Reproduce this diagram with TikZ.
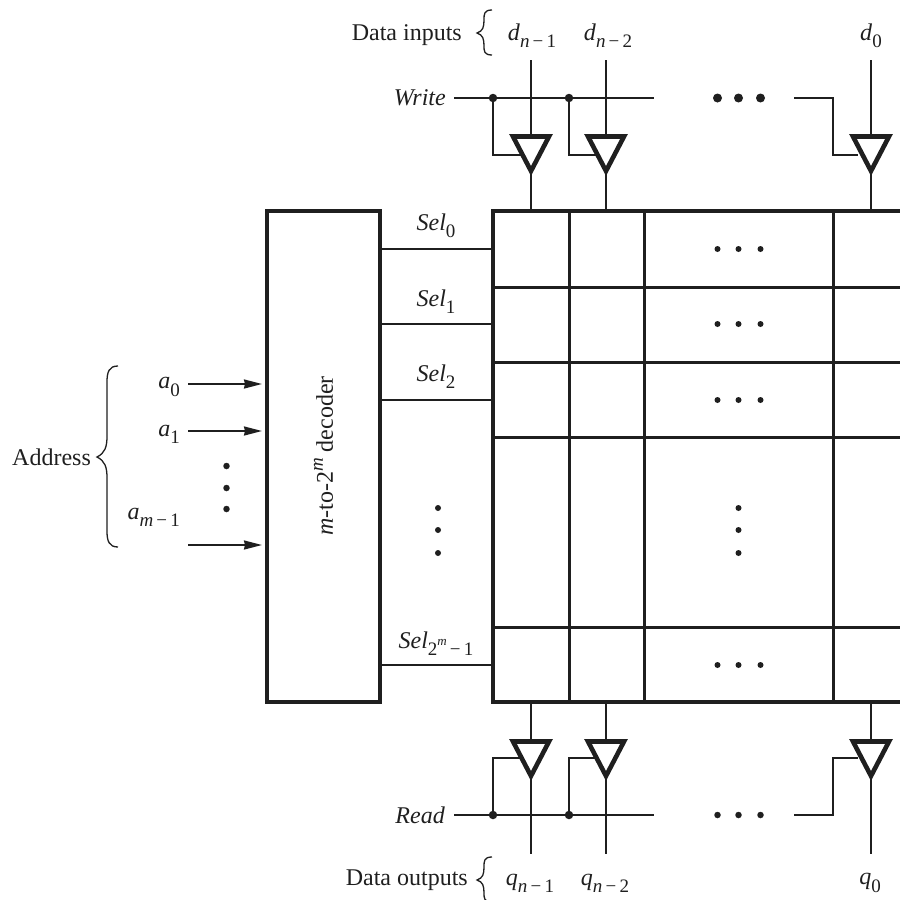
\documentclass[tikz,border=0pt]{standalone}
\usepackage{fontspec}
\setmainfont{Liberation Serif}
\usetikzlibrary{arrows.meta}
\newcommand{\lb}[2]{\textit{#1}\raisebox{-0.3em}{\fontsize{19}{20}\selectfont #2}}
\newcommand{\idx}[2]{\textit{#1}\,−\,#2}
\tikzset{
  x=1pt,y=-1pt,
  thinw/.style={line width=1.9pt,draw=black!88},
  gridw/.style={line width=3pt,draw=black!88},
  boxw/.style={line width=4.4pt,draw=black!88,line join=miter},
  bufw/.style={line width=4.6pt,draw=black!88,line join=miter,fill=white},
  lbl/.style={inner sep=0pt,font=\fontsize{24}{26}\selectfont,text=black!88},
  jdot/.style={circle,fill=black!88,inner sep=0pt,minimum size=8.5pt},
  bigdot/.style={circle,fill=black!88,inner sep=0pt,minimum size=9pt},
  smalldot/.style={circle,fill=black!88,inner sep=0pt,minimum size=6pt},
  arr/.style={thinw,-{Stealth[length=18pt,width=9pt,inset=1pt]}},
  bracew/.style={line width=1.3pt,draw=black!88},
}
\begin{document}
\begin{tikzpicture}
\useasboundingbox (0,0) rectangle (900,900);
\clip (0,0) rectangle (900,900);
% grid
\foreach \y in {287,362,437,627}
  \draw[gridw] (493,\y) -- (900,\y);
\foreach \x in {569,644,833}
  \draw[gridw] (\x,211) -- (\x,702);
\draw[boxw] (900,211) -- (493,211) -- (493,702) -- (900,702);
% decoder
\node[boxw,draw,rectangle,outer sep=0pt,minimum width=113pt,minimum height=491pt,inner sep=0pt,anchor=north west] (dec) at (267,211) {};
\node[lbl,rotate=90] at (323.5,456) {\textit{m}-to-2\raisebox{0.42em}{\fontsize{19}{20}\selectfont\textit{m}} decoder};
% select lines
\foreach \y/\t/\ly in {249/{\lb{Sel}{0}}/226,324/{\lb{Sel}{1}}/302,400/{\lb{Sel}{2}}/377}{
  \coordinate (s) at (493,\y);
  \draw[thinw] (dec.east |- s) -- (s);
  \node[lbl] at (436,\ly) {\t};
}
\coordinate (sl) at (493,665);
\draw[thinw] (dec.east |- sl) -- (sl);
\node[lbl] at (436,644) {\textit{Sel}\raisebox{-0.3em}{\fontsize{19}{20}\selectfont 2\raisebox{0.55em}{\fontsize{13}{14}\selectfont\textit{m}}\,−\,1}};
% dots in grid
\foreach \y in {249,324,400,665}
  \foreach \x in {717.5,738.5,760.5}
    \node[smalldot] at (\x,\y) {};
\foreach \y in {508,530,553}{
  \node[smalldot] at (738.5,\y) {};
  \node[smalldot] at (438,\y) {};
}
% write bus
\node[lbl,anchor=east] (wr) at (446,98) {\textit{Write}};
\coordinate (wend) at (654,98);
\coordinate (wres) at (794,98);
\draw[thinw] (454,98) -- (wend);
\draw[thinw] (wres) -- (833,98) -- (833,155) -- (858,155);
\foreach \x in {717.5,738.5,760.5}
  \node[bigdot] at (\x,98) {};
% read bus
\node[lbl,anchor=east] (rd) at (445,815) {\textit{Read}};
\coordinate (rend) at (654,815);
\coordinate (rres) at (794,815);
\draw[thinw] (454,815) -- (rend);
\draw[thinw] (rres) -- (833,815) -- (833,758) -- (858,758);
\foreach \x in {717.5,738.5,760.5}
  \node[smalldot,minimum size=6.5pt] at (\x,815) {};
% buffers
\foreach \x in {531,606,871}{
  \draw[thinw] (\x,60) -- (\x,211);
  \draw[thinw] (\x,702) -- (\x,854);
}
\foreach \x/\j in {493/531,569/606}{
  \draw[thinw] (\x,98) -- (\x,155) -- (\j,155);
  \node[jdot] at (\x,98) {};
  \draw[thinw] (\x,815) -- (\x,758) -- (\j,758);
  \node[jdot] at (\x,815) {};
}
\foreach \x in {531,606,871}{
  \draw[bufw] (\x-18,136.5) -- (\x+18,136.5) -- (\x,171) -- cycle;
  \draw[bufw] (\x-18,741.5) -- (\x+18,741.5) -- (\x,776) -- cycle;
}
% address
\foreach \y in {384,431,545}{
  \coordinate (t) at (188,\y);
  \coordinate (h) at (262,\y);
  \draw[arr] (t) -- (h);
}
\foreach \y in {466,488,509}
  \node[smalldot,minimum size=6.5pt] at (226.5,\y) {};
\node[lbl,anchor=east] at (180,387) {\lb{a}{0}};
\node[lbl,anchor=east] at (180,434) {\lb{a}{1}};
\node[lbl,anchor=east] at (180,517) {\lb{a}{\idx{m}{1}}};
\node[lbl,anchor=west] at (12,457) {Address};
\draw[bracew] (118,366) .. controls (109,366) and (107,372) .. (107,382) -- (107,436)
  .. controls (107,447) and (105,453) .. (97,457)
  .. controls (105,461) and (107,467) .. (107,478) -- (107,531)
  .. controls (107,541) and (109,547) .. (118,547);
% data inputs
\node[lbl,anchor=east] at (462,35) {Data inputs};
\draw[bracew] (492,10) .. controls (484,10) and (484,14) .. (484,20)
  .. controls (484,27) and (483,31) .. (477,33)
  .. controls (483,35) and (484,39) .. (484,46)
  .. controls (484,51) and (484,55) .. (492,55);
\node[lbl] at (532,36) {\lb{d}{\idx{n}{1}}};
\node[lbl] at (608,36) {\lb{d}{\idx{n}{2}}};
\node[lbl] at (871,36) {\lb{d}{0}};
% data outputs
\node[lbl,anchor=east] at (468,880) {Data outputs};
\draw[bracew] (492,857) .. controls (484,857) and (484,861) .. (484,867)
  .. controls (484,874) and (483,878) .. (477,880)
  .. controls (483,882) and (484,886) .. (484,893)
  .. controls (484,898) and (484,902) .. (492,902);
\node[lbl] at (530,883) {\lb{q}{\idx{n}{1}}};
\node[lbl] at (605,883) {\lb{q}{\idx{n}{2}}};
\node[lbl] at (870,883) {\lb{q}{0}};
\end{tikzpicture}
\end{document}
